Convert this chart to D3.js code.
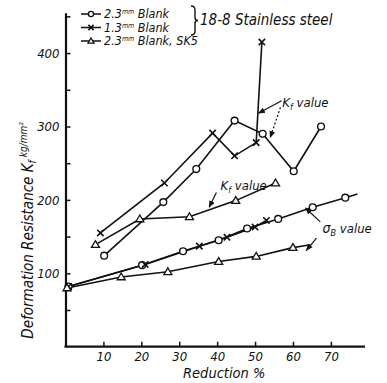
<!DOCTYPE html>
<html>
<head>
<meta charset="utf-8">
<script src="https://cdn.jsdelivr.net/npm/d3@7"></script>
<style>
  body { margin: 0; background: #fff; }
  svg text { font-family: "Liberation Sans Narrow", "DejaVu Sans Condensed", sans-serif; font-style: italic; fill: #111; }
</style>
</head>
<body>
<svg id="chart" width="387" height="383"></svg>
<script>
// reduction % ticks
const xTicks = [10, 20, 30, 40, 50, 60, 70]
const yTicks = [50, 100, 150, 200, 250, 300, 350, 400, 450]
const yLabels = [100, 200, 300, 400]

// Kf value (deformation resistance)
const kf23 = [[10.2, 124], [25.8, 197], [34.5, 242], [44.6, 308], [52.0, 290], [60.2, 239], [67.4, 300]]
const kf13 = [[9.2, 155], [26.1, 223], [38.8, 291], [44.6, 260], [50.3, 278], [51.8, 415]]
const kfSK5 = [[7.9, 139], [19.6, 174], [32.7, 177], [44.9, 199], [55.4, 223]]

// sigma B value
const sb23 = [[0.8, 82], [20.2, 111], [31.0, 130], [40.4, 145], [47.9, 161], [56.1, 174], [65.2, 190], [73.8, 203]]
const sb23Tail = [73.8, 203, 77, 208]
const sb13 = [[0.8, 82], [21.0, 112], [35.3, 137], [42.6, 149], [50.0, 163], [53.0, 172]]
const sbSK5 = [[0.4, 80], [14.7, 95], [27.0, 102], [40.4, 116], [50.3, 123], [60.0, 135]]
const sbSK5Tail = [60.0, 135, 64.6, 139]

const svg = d3.select('#chart')

const x = d3.scaleLinear().domain([0, 79]).range([65.5, 365])
const y = d3.scaleLinear().domain([0, 455]).range([346.7, 12.7])

svg.append('defs').append('marker')
  .attr('id', 'arr')
  .attr('viewBox', '0 0 10 10')
  .attr('refX', 9).attr('refY', 5)
  .attr('markerWidth', 6).attr('markerHeight', 6)
  .attr('orient', 'auto')
  .append('path')
  .attr('d', 'M0,1L10,5L0,9Z')
  .style('fill', '#111')

// axes
const yAxis = d3.axisLeft(y)
  .tickValues(yTicks)
  .tickSizeInner(-5)
  .tickSizeOuter(0)
  .tickPadding(6)
  .tickFormat(d => yLabels.includes(d) ? d : '')

const gy = svg.append('g').attr('transform', `translate(${x(0)},0)`).call(yAxis)

const xAxis = d3.axisBottom(x)
  .tickValues(xTicks)
  .tickSizeInner(-5)
  .tickSizeOuter(0)
  .tickPadding(5)

const gx = svg.append('g').attr('transform', `translate(0,${y(0)})`).call(xAxis)

gx.select('.domain').attr('d', `M${x(0) - 1},0H${x(79)}`)
;[gx, gy].forEach(g => {
  g.attr('font-family', null).attr('font-size', null)
  g.select('.domain').style('stroke', '#111').style('stroke-width', 2.2)
  g.selectAll('.tick line').style('stroke', '#111').style('stroke-width', 1.5)
  g.selectAll('.tick text')
    .style('font-size', '13px')
    .style('fill', '#111')
})

// lines
const line = d3.line().x(d => x(d[0])).y(d => y(d[1]))

const allSeries = [
  { data: kf23, mark: 'circle' },
  { data: kf13, mark: 'cross' },
  { data: kfSK5, mark: 'tri' },
  { data: sb23, mark: 'circle' },
  { data: sb13, mark: 'cross' },
  { data: sbSK5, mark: 'tri' }
]

const plot = svg.append('g')

allSeries.forEach(s => {
  plot.append('path')
    .attr('d', line(s.data))
    .style('fill', 'none')
    .style('stroke', '#111')
    .style('stroke-width', 1.6)
})

;[sb23Tail, sbSK5Tail].forEach(t => {
  plot.append('line')
    .attr('x1', x(t[0])).attr('y1', y(t[1]))
    .attr('x2', x(t[2])).attr('y2', y(t[3]))
    .style('stroke', '#111')
    .style('stroke-width', 1.6)
})

function drawMark(g, type, cx, cy, small) {
  const r = small ? 2.6 : 3.4
  if (type === 'circle') {
    g.append('circle')
      .attr('cx', cx).attr('cy', cy).attr('r', r)
      .style('fill', '#fff').style('stroke', '#111').style('stroke-width', 1.4)
  } else if (type === 'cross') {
    const s = small ? 2.6 : 3.2
    g.append('path')
      .attr('d', `M${cx - s},${cy - s}L${cx + s},${cy + s}M${cx - s},${cy + s}L${cx + s},${cy - s}`)
      .style('stroke', '#111').style('stroke-width', 1.6)
  } else {
    const s = small ? 3 : 4
    g.append('path')
      .attr('d', `M${cx},${cy - s}L${cx + s},${cy + s * 0.7}L${cx - s},${cy + s * 0.7}Z`)
      .style('fill', '#fff').style('stroke', '#111').style('stroke-width', 1.3)
  }
}

allSeries.forEach(s => {
  s.data.forEach(d => drawMark(plot, s.mark, x(d[0]), y(d[1]), false))
})

// annotations (positions in data units)
const ann = svg.append('g')
function leader(x1, y1, x2, y2, dashed) {
  ann.append('line')
    .attr('x1', x(x1)).attr('y1', y(y1))
    .attr('x2', x(x2)).attr('y2', y(y2))
    .attr('marker-end', 'url(#arr)')
    .style('stroke', '#111')
    .style('stroke-width', 1.2)
    .style('stroke-dasharray', dashed ? '2,2' : null)
}
function kfLabel(xv, yv) {
  const t = ann.append('text')
    .attr('x', x(xv)).attr('y', y(yv))
    .style('font-size', '13px')
  t.append('tspan').text('K')
  t.append('tspan').attr('dy', 3).style('font-size', '9px').text('f')
  t.append('tspan').attr('dy', -3).text(' value')
}

kfLabel(57.2, 327)
leader(57, 335, 50.9, 318, false)
leader(56.7, 326, 54, 285, true)

kfLabel(40.9, 213)
leader(39.8, 210, 37.9, 190, false)

const sg = ann.append('text')
  .attr('x', x(67.8)).attr('y', y(155))
  .style('font-size', '14px')
sg.append('tspan').text('σ')
sg.append('tspan').attr('dy', 3).style('font-size', '9px').text('B')
sg.append('tspan').attr('dy', -3).style('font-size', '13px').text(' value')
leader(67.2, 170, 63.3, 189, false)
leader(66.2, 148, 63.5, 131, false)

// legend
const legendRows = [
  { mark: 'circle', label: 'Blank', y: 14, num: '2.3' },
  { mark: 'cross', label: 'Blank', y: 27.5, num: '1.3' },
  { mark: 'tri', label: 'Blank, SK5', y: 41, num: '2.3' }
]
const lg = svg.append('g')
legendRows.forEach(r => {
  lg.append('line')
    .attr('x1', 81).attr('x2', 101)
    .attr('y1', r.y).attr('y2', r.y)
    .style('stroke', '#111').style('stroke-width', 1.5)
  drawMark(lg, r.mark, 91, r.y, true)
  const t = lg.append('text')
    .attr('x', 104).attr('y', r.y + 4)
    .style('font-size', '12.5px')
  t.append('tspan').text(r.num)
  t.append('tspan').attr('dy', -4).style('font-size', '7px').text('mm')
  t.append('tspan').attr('dy', 4).text(' ' + r.label)
})
// brace joining the two stainless rows
const bx = 191, by0 = 6, by1 = 35, bm = (by0 + by1) / 2
lg.append('path')
  .attr('d', `M${bx},${by0}Q${bx + 4},${by0} ${bx + 4},${by0 + 4}V${bm - 3}Q${bx + 4},${bm} ${bx + 7},${bm}` +
    `Q${bx + 4},${bm} ${bx + 4},${bm + 3}V${by1 - 4}Q${bx + 4},${by1} ${bx},${by1}`)
  .style('fill', 'none')
  .style('stroke', '#111')
  .style('stroke-width', 1.4)
lg.append('text')
  .attr('x', 200).attr('y', 25)
  .style('font-size', '15px')
  .text('18-8 Stainless steel')

// axis titles
const yt = svg.append('text')
  .attr('transform', `translate(33,${y(0) - 8}) rotate(-90)`)
  .style('font-size', '15px')
yt.append('tspan').text('Deformation  Resistance  K')
yt.append('tspan').attr('dy', 3).style('font-size', '10px').text('f')
yt.append('tspan').attr('dy', -9).attr('dx', 3).style('font-size', '10px').text('kg/mm²')

svg.append('text')
  .attr('x', x(31)).attr('y', 378)
  .style('font-size', '14.5px')
  .text('Reduction   %')
</script>
</body>
</html>
